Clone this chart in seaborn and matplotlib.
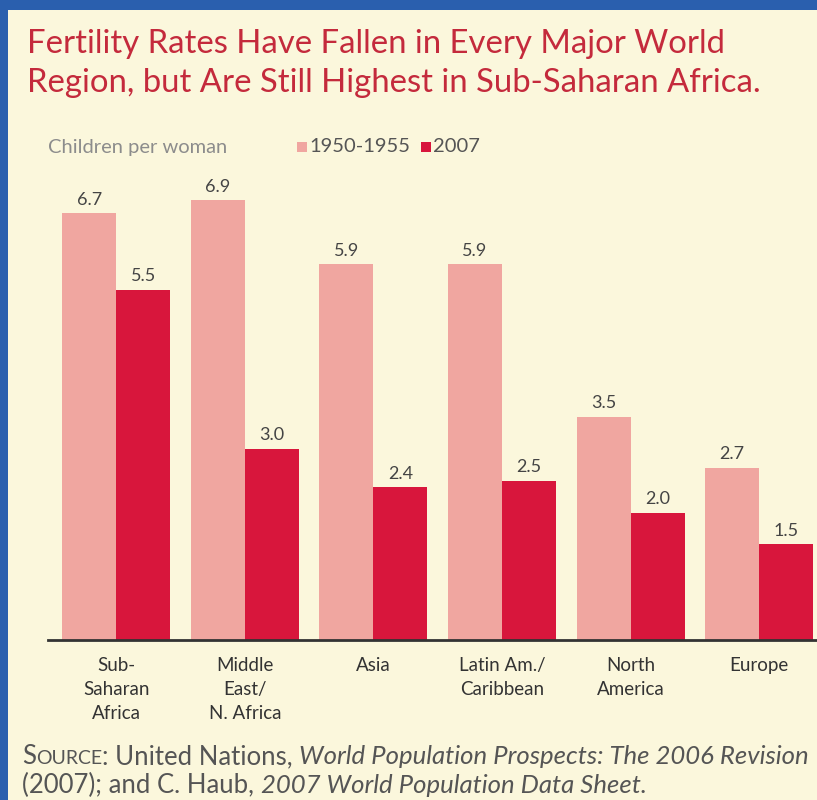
import numpy as np
import pandas as pd
import seaborn as sns
import matplotlib.pyplot as plt
from matplotlib.patches import Rectangle

# data
regions = ["Sub-\nSaharan\nAfrica", "Middle\nEast/\nN. Africa", "Asia",
           "Latin Am./\nCaribbean", "North\nAmerica", "Europe"]
rate_1950 = [6.7, 6.9, 5.9, 5.9, 3.5, 2.7]
rate_2007 = [5.5, 3.0, 2.4, 2.5, 2.0, 1.5]
periods = ["1950-1955", "2007"]

PINK = "#f0a6a0"
CRIMSON = "#d8163c"
CREAM = "#fbf7dc"
BLUE = "#2a5fae"
TITLE_RED = "#c42a3c"
FONT = "Lato"

df = pd.DataFrame({
    "region": regions * 2,
    "period": [periods[0]] * len(regions) + [periods[1]] * len(regions),
    "rate": rate_1950 + rate_2007,
})

sns.set_theme(style="white")
plt.rcParams['font.family'] = [FONT, 'DejaVu Sans']

fig = plt.figure(figsize=(8.17, 8.0), dpi=100)
fig.patch.set_facecolor(BLUE)
fig.patches.append(Rectangle((8 / 817, 0), 1, 1 - 10 / 800, transform=fig.transFigure,
                             facecolor=CREAM, edgecolor="none", zorder=-10))

ax = fig.add_axes([48 / 817, 0.2, 1 - 48 / 817, 490 / 800])
ax.set_facecolor("none")
sns.barplot(data=df, x="region", y="rate", hue="period", order=regions,
            hue_order=periods, palette=[PINK, CRIMSON], width=0.84,
            saturation=1, legend=False, linewidth=0, ax=ax)

ax.set_xlim(-0.53, 5.45)
ax.set_ylim(0, 7.69)
for c in ax.containers:
    ax.bar_label(c, fmt="%.1f", padding=4, fontsize=13, color="#444444")

for s in ["top", "right", "left"]:
    ax.spines[s].set_visible(False)
ax.spines["bottom"].set_color("#333333")
ax.spines["bottom"].set_linewidth(2)
ax.set_yticks([])
ax.set_xlabel("")
ax.set_ylabel("")
ax.tick_params(axis="x", length=0, pad=12)
for lab in ax.get_xticklabels():
    lab.set_fontsize(13.5)
    lab.set_color("#333333")
    lab.set_linespacing(1.5)
    lab.set_verticalalignment("top")

# title
fig.text(27 / 817, 1 - 53 / 800, "Fertility Rates Have Fallen in Every Major World",
         fontsize=23.7, color=TITLE_RED, ha="left", va="baseline")
fig.text(27 / 817, 1 - 92 / 800, "Region, but Are Still Highest in Sub-Saharan Africa.",
         fontsize=23.7, color=TITLE_RED, ha="left", va="baseline")

# axis caption + legend
fig.text(48 / 817, 1 - 147 / 800, "Children per woman", fontsize=14.5,
         color="#8c8c8c", va="center")
for x0, col, lab in [(297, PINK, periods[0]), (421, CRIMSON, periods[1])]:
    fig.patches.append(Rectangle((x0 / 817, 1 - 152 / 800), 10 / 817, 10 / 800,
                                 transform=fig.transFigure, facecolor=col,
                                 edgecolor="none", zorder=2))
    fig.text((x0 + 12) / 817, 1 - 147 / 800, lab, fontsize=14.5,
             color="#555555", va="center")

# source line built from pieces
renderer = fig.canvas.get_renderer()


def put_line(x_px, y_px, pieces):
    x = x_px
    for txt, size, style in pieces:
        t = fig.text(x / 817, 1 - y_px / 800, txt, fontsize=size, style=style,
                     color="#555555", va="baseline", ha="left")
        bb = t.get_window_extent(renderer=renderer)
        x += bb.width


put_line(22, 764, [("S", 18.5, "normal"), ("OURCE", 14, "normal"),
                   (": United Nations, ", 18.5, "normal"),
                   ("World Population Prospects: The 2006 Revision", 18.5, "italic")])
put_line(22, 793, [("(2007); and C. Haub, ", 18.5, "normal"),
                   ("2007 World Population Data Sheet.", 18.5, "italic")])

fig.savefig("out.png", dpi=100, facecolor=fig.get_facecolor())
